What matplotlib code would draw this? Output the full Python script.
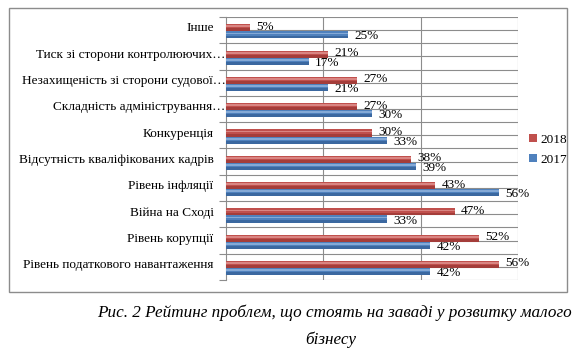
import matplotlib.pyplot as plt
import matplotlib.transforms as mtransforms
from matplotlib.patches import Rectangle, Patch
import numpy as np

plt.rcParams['font.family'] = ['Liberation Serif', 'DejaVu Serif']

# categories from bottom to top
categories = [
    "Рівень податкового навантаження",
    "Рівень корупції",
    "Війна на Сході",
    "Рівень інфляції",
    "Відсутність кваліфікованих кадрів",
    "Конкуренція",
    "Складність адміністрування…",
    "Незахищеність зі сторони судової…",
    "Тиск зі сторони контролюючих…",
    "Інше",
]
values_2018 = [56, 52, 47, 43, 38, 30, 27, 27, 21, 5]
values_2017 = [42, 42, 33, 56, 39, 33, 30, 21, 17, 25]

red = "#C0504D"
red_dark = "#8E2F2C"
red_light = "#EBA9A7"
blue = "#4F81BD"
blue_dark = "#2C5489"
blue_light = "#A9C4E8"
grid_col = "#8C8C8C"

fig = plt.figure(figsize=(5.75, 3.55), dpi=100)
W, H = 575, 355

# outer frame of the chart object
fig.patches.append(Rectangle((9 / W, 1 - 292 / H), 558 / W, 284 / H,
                             transform=fig.transFigure, fill=False,
                             edgecolor=grid_col, lw=1))

ax = fig.add_axes([226 / W, 1 - 280 / H, 292 / W, 263 / H])
y = np.arange(len(categories))
h = 0.27
off_r = 0.09
off_b = -0.18


def bar3d(ys, vals, base, dark, light):
    ax.barh(ys, vals, height=h, color=base, zorder=3)
    # darker underside and light highlight for a rounded look
    ax.barh(ys - h * 0.3, vals, height=h * 0.4, color=dark, alpha=0.55, zorder=4, lw=0)
    ax.barh(ys + h * 0.2, vals, height=h * 0.25, color=light, alpha=0.6, zorder=4, lw=0)


bar3d(y + off_r, values_2018, red, red_dark, red_light)
bar3d(y + off_b, values_2017, blue, blue_dark, blue_light)

for yi, v in zip(y, values_2018):
    ax.text(v + 1.3, yi + off_r + 0.04, f"{v}%", va="center", ha="left", fontsize=9.5, zorder=6)
for yi, v in zip(y, values_2017):
    ax.text(v + 1.3, yi + off_b - 0.06, f"{v}%", va="center", ha="left", fontsize=9.5, zorder=6)

ax.set_xlim(0, 60)
ax.set_ylim(-0.5, len(categories) - 0.5)

# gridlines: vertical every 20%, horizontal at boundaries and centres
for gx in [20, 40, 60]:
    ax.axvline(gx, color=grid_col, lw=0.8, zorder=1)
for gy in np.arange(-0.5, len(categories), 0.5):
    ax.axhline(gy, color=grid_col, lw=0.8, zorder=1)

ax.set_xticks([])
ax.set_yticks(np.arange(-0.5, len(categories), 1.0))
ax.set_yticklabels([])
ax.tick_params(axis="y", which="major", length=5, color=grid_col, width=0.8)
ax.set_yticks(y + 0.12, minor=True)
ax.set_yticklabels(categories, minor=True, fontsize=9.5)
ax.tick_params(axis="y", which="minor", length=0, pad=9)
# truncated labels: the ellipsis hangs past the text edge, like in Excel
shift = mtransforms.ScaledTranslation(0.12, 0, fig.dpi_scale_trans)
for lab in ax.get_yticklabels(minor=True):
    if lab.get_text().endswith("…"):
        lab.set_transform(lab.get_transform() + shift)
for s in ["top", "right", "bottom"]:
    ax.spines[s].set_visible(False)
ax.spines["left"].set_color(grid_col)
ax.spines["left"].set_linewidth(0.8)

handles = [Patch(facecolor=red, label="2018"), Patch(facecolor=blue, label="2017")]
fig.legend(handles=handles, loc="upper left", bbox_to_anchor=(517 / W, 1 - 122 / H),
           frameon=False, fontsize=9.5, handlelength=0.6, handleheight=0.6,
           handletextpad=0.3, labelspacing=0.6)

fig.text(334 / W, 1 - 313 / H,
         "Рис. 2 Рейтинг проблем, що стоять на заваді у розвитку малого",
         ha="center", va="center", fontsize=12.3, style="italic")
fig.text(331 / W, 1 - 340 / H, "бізнесу", ha="center", va="center",
         fontsize=12.3, style="italic")

fig.savefig("out.png", dpi=100)
